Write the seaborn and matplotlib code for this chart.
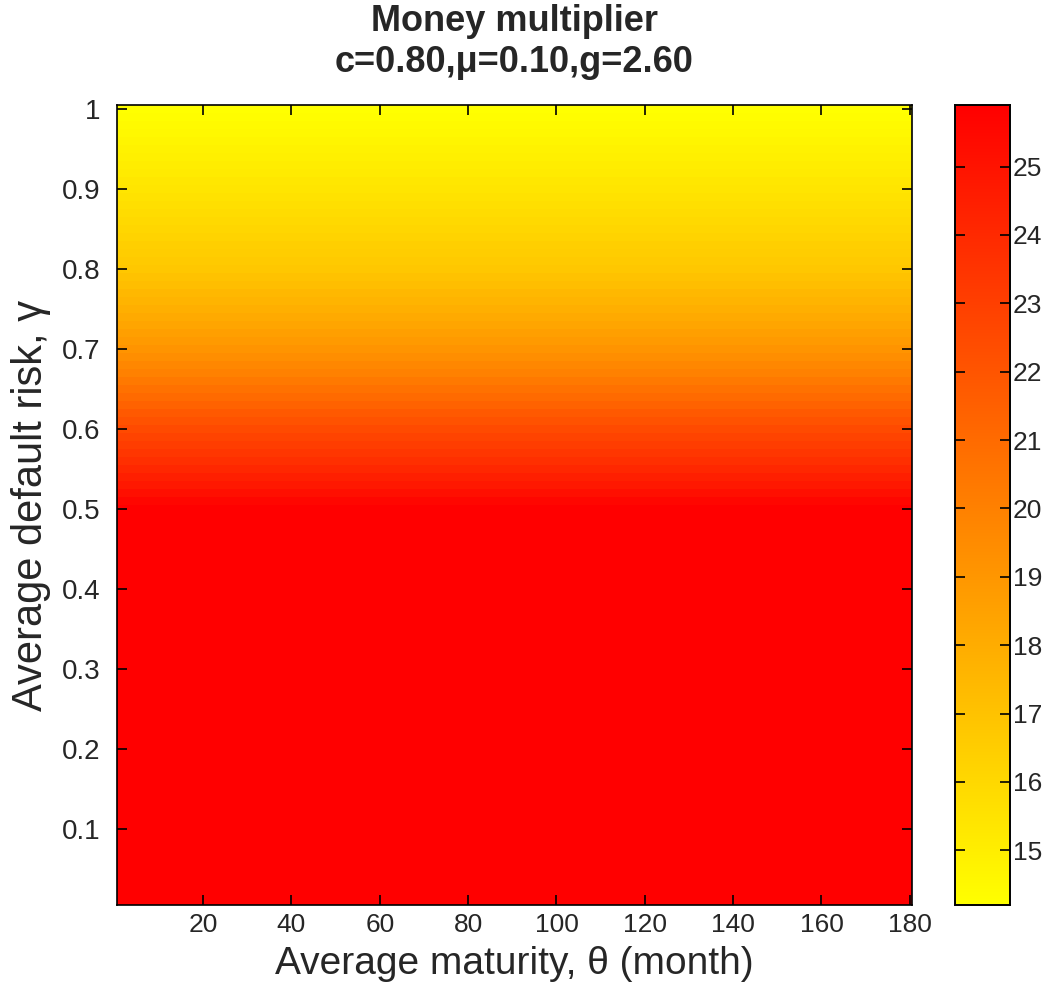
import numpy as np
import pandas as pd
import matplotlib
matplotlib.use("Agg")
import matplotlib.pyplot as plt
import seaborn as sns

# ---- data ----
theta = list(range(1, 181))                      # average maturity (month)
gamma = [round(0.01 * k, 2) for k in range(1, 101)]  # average default risk
# money multiplier as a function of gamma (constant along theta)
multiplier = [
    25.9, 25.9, 25.9, 25.9, 25.9, 25.9, 25.9, 25.9, 25.9, 25.9,
    25.9, 25.9, 25.9, 25.9, 25.9, 25.9, 25.9, 25.9, 25.9, 25.9,
    25.9, 25.9, 25.9, 25.9, 25.9, 25.9, 25.9, 25.9, 25.9, 25.9,
    25.9, 25.9, 25.9, 25.9, 25.9, 25.9, 25.9, 25.9, 25.9, 25.9,
    25.9, 25.9, 25.9, 25.9, 25.9, 25.9, 25.9, 25.9, 25.9, 25.9,
    25.6, 25.2, 24.8, 24.45, 24.1, 23.75, 23.4, 23.1, 22.8, 22.5,
    22.15, 21.8, 21.4, 21.05, 20.7, 20.35, 20.0, 19.7, 19.4, 19.1,
    18.85, 18.6, 18.35, 18.1, 17.9, 17.65, 17.45, 17.2, 17.0, 16.8,
    16.65, 16.5, 16.4, 16.25, 16.1, 15.95, 15.8, 15.7, 15.55, 15.4,
    15.3, 15.15, 15.05, 14.9, 14.8, 14.7, 14.55, 14.45, 14.3, 14.2,
]
xticks = [20, 40, 60, 80, 100, 120, 140, 160, 180]
yticks = [0.1, 0.2, 0.3, 0.4, 0.5, 0.6, 0.7, 0.8, 0.9, 1.0]
ytick_labels = ["0.1", "0.2", "0.3", "0.4", "0.5", "0.6", "0.7", "0.8", "0.9", "1"]
cbar_ticks = [15, 16, 17, 18, 19, 20, 21, 22, 23, 24, 25]

grid = pd.DataFrame(np.tile(np.array(multiplier)[:, None], (1, len(theta))),
                    index=gamma, columns=theta)

sns.set_style("white")
plt.rcParams["font.family"] = ["Liberation Sans", "DejaVu Sans"]

W, H = 1057, 991
fig = plt.figure(figsize=(W / 100, H / 100), dpi=100)
ax = fig.add_axes([117 / W, (H - 905) / H, (912 - 117) / W, 800 / H])
cax = fig.add_axes([955 / W, (H - 905) / H, (1010 - 955) / W, 800 / H])

sns.heatmap(grid, ax=ax, cmap="autumn_r", vmin=min(multiplier), vmax=max(multiplier),
            cbar=True, cbar_ax=cax, xticklabels=False, yticklabels=False,
            rasterized=True)
ax.invert_yaxis()
ax.set_axisbelow(False)
cax.set_axisbelow(False)

tick_col = "#262626"
# ticks mapped to cell centres
ax.set_xticks([theta.index(t) + 0.5 for t in xticks])
ax.set_xticklabels([str(t) for t in xticks], fontsize=19, rotation=0)
ax.set_yticks([gamma.index(g) + 0.5 for g in yticks])
ax.set_yticklabels(ytick_labels, fontsize=20, rotation=0)
ax.tick_params(direction="in", length=7, width=1.2, top=True, right=True,
               bottom=True, left=True, colors="black", labelcolor=tick_col)
ax.tick_params(axis="x", pad=6)
ax.tick_params(axis="y", pad=12)
for s in ax.spines.values():
    s.set_visible(True)
    s.set_color("black")
    s.set_linewidth(1.2)

ax.set_xlabel("Average maturity, θ (month)", fontsize=28, labelpad=6)
ax.set_ylabel("Average default risk, γ", fontsize=30, labelpad=8)
ax.set_title("Money multiplier\nc=0.80,μ=0.10,g=2.60", fontsize=26,
             fontweight="bold", pad=24, linespacing=1.2)

cax.set_yticks(cbar_ticks)
cax.set_yticklabels([str(t) for t in cbar_ticks], fontsize=19)
cax.tick_params(direction="in", length=7, width=1.2, left=True, right=True,
                colors="black", labelcolor=tick_col, pad=2)
for s in cax.spines.values():
    s.set_visible(True)
    s.set_color("black")
    s.set_linewidth(1.2)

fig.savefig("out.png", dpi=100)
